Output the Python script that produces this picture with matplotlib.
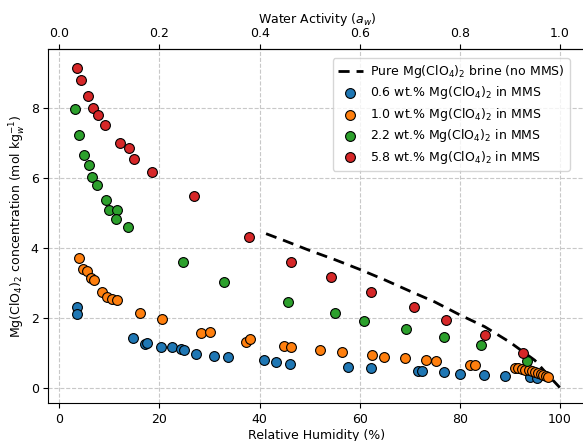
import matplotlib
matplotlib.use('Agg')
import matplotlib.pyplot as plt

# pure brine curve (no MMS)
brine_rh = [41.3, 45, 50, 55, 60, 65, 70, 75, 80, 85, 90, 95, 97.5, 100]
brine_conc = [4.40, 4.20, 3.92, 3.66, 3.38, 3.08, 2.76, 2.45, 2.08, 1.74, 1.30, 0.78, 0.38, 0.0]

# 0.6 wt.%
rh_06 = [3.5, 3.6, 14.7, 17.1, 17.5, 20.3, 22.6, 24.3, 24.9, 27.3, 30.9, 33.6,
         40.8, 43.2, 46.1, 57.6, 62.3, 71.7, 72.5, 76.9, 80.1, 84.8, 89.1, 94.0, 95.5]
conc_06 = [2.31, 2.11, 1.41, 1.24, 1.26, 1.15, 1.15, 1.10, 1.08, 0.97, 0.91, 0.88,
           0.78, 0.72, 0.68, 0.58, 0.56, 0.48, 0.48, 0.45, 0.40, 0.37, 0.33, 0.29, 0.28]

# 1.0 wt.%
rh_10 = [3.9, 4.7, 5.5, 6.3, 6.9, 8.6, 9.6, 10.6, 11.5, 16.1, 20.6, 28.2, 30.0,
         37.3, 38.0, 44.8, 46.3, 52.0, 56.5, 62.5, 64.8, 69.0, 73.3, 75.3, 82.1, 83.0,
         91.0, 91.7, 92.4, 93.1, 93.8, 94.5, 95.1, 95.7, 96.2, 96.7, 97.2, 97.7]
conc_10 = [3.71, 3.40, 3.33, 3.13, 3.07, 2.72, 2.60, 2.54, 2.49, 2.13, 1.95, 1.57, 1.59,
           1.31, 1.38, 1.20, 1.16, 1.07, 1.02, 0.93, 0.88, 0.85, 0.80, 0.76, 0.65, 0.65,
           0.56, 0.55, 0.53, 0.51, 0.49, 0.47, 0.44, 0.42, 0.39, 0.36, 0.33, 0.29]

# 2.2 wt.%
rh_22 = [3.1, 4.0, 4.9, 5.9, 6.6, 7.5, 9.3, 10.0, 11.6, 11.4, 13.7, 24.7, 32.9,
         45.7, 55.0, 60.9, 69.3, 76.9, 84.2, 93.4]
conc_22 = [7.96, 7.21, 6.64, 6.35, 6.02, 5.79, 5.36, 5.07, 5.07, 4.82, 4.58, 3.58, 3.03,
           2.45, 2.13, 1.91, 1.67, 1.44, 1.21, 0.77]

# 5.8 wt.%
rh_58 = [3.5, 4.3, 5.7, 6.7, 7.7, 9.1, 12.1, 13.9, 14.9, 18.6, 26.8, 37.9,
         46.3, 54.3, 62.3, 70.8, 77.3, 85.1, 92.7]
conc_58 = [9.14, 8.79, 8.34, 8.00, 7.79, 7.50, 7.00, 6.86, 6.54, 6.16, 5.48, 4.31,
           3.59, 3.15, 2.72, 2.29, 1.94, 1.51, 1.00]

series = [
    (rh_06, conc_06, 'C0', '0.6 wt.% Mg(ClO$_4$)$_2$ in MMS'),
    (rh_10, conc_10, 'C1', '1.0 wt.% Mg(ClO$_4$)$_2$ in MMS'),
    (rh_22, conc_22, 'C2', '2.2 wt.% Mg(ClO$_4$)$_2$ in MMS'),
    (rh_58, conc_58, 'C3', '5.8 wt.% Mg(ClO$_4$)$_2$ in MMS'),
]

plt.rcParams['font.size'] = 9
fig = plt.figure(figsize=(5.83, 4.41), dpi=100)
ax = fig.add_axes([0.083, 0.0855, 0.921, 0.8025])

ax.plot(brine_rh, brine_conc, 'k--', lw=2, dashes=(4, 2.5),
        label='Pure Mg(ClO$_4$)$_2$ brine (no MMS)', zorder=2)
for rh, conc, col, lab in series:
    ax.scatter(rh, conc, s=50, c=col, edgecolors='k', linewidths=0.8,
               label=lab, zorder=3)

ax.set_xlim(-2.2, 105.1)
ax.set_ylim(-0.45, 9.67)
ax.set_xticks([0, 20, 40, 60, 80, 100])
ax.set_yticks([0, 2, 4, 6, 8])
ax.grid(True, ls='--', color='#c8c8c8', lw=0.8)
ax.set_axisbelow(True)
ax.set_xlabel('Relative Humidity (%)', labelpad=2)
ax.set_ylabel('Mg(ClO$_4$)$_2$ concentration (mol kg$_w^{-1}$)', labelpad=2)

top = ax.secondary_xaxis('top', functions=(lambda x: x / 100, lambda x: x * 100))
top.set_xticks([0.0, 0.2, 0.4, 0.6, 0.8, 1.0])
top.set_xlabel('Water Activity ($a_w$)', labelpad=3)

ax.legend(loc='upper right', bbox_to_anchor=(0.983, 0.993), fontsize=9,
          handletextpad=0.6, borderpad=0.4, labelspacing=0.35)

plt.savefig('out.png', dpi=100)
